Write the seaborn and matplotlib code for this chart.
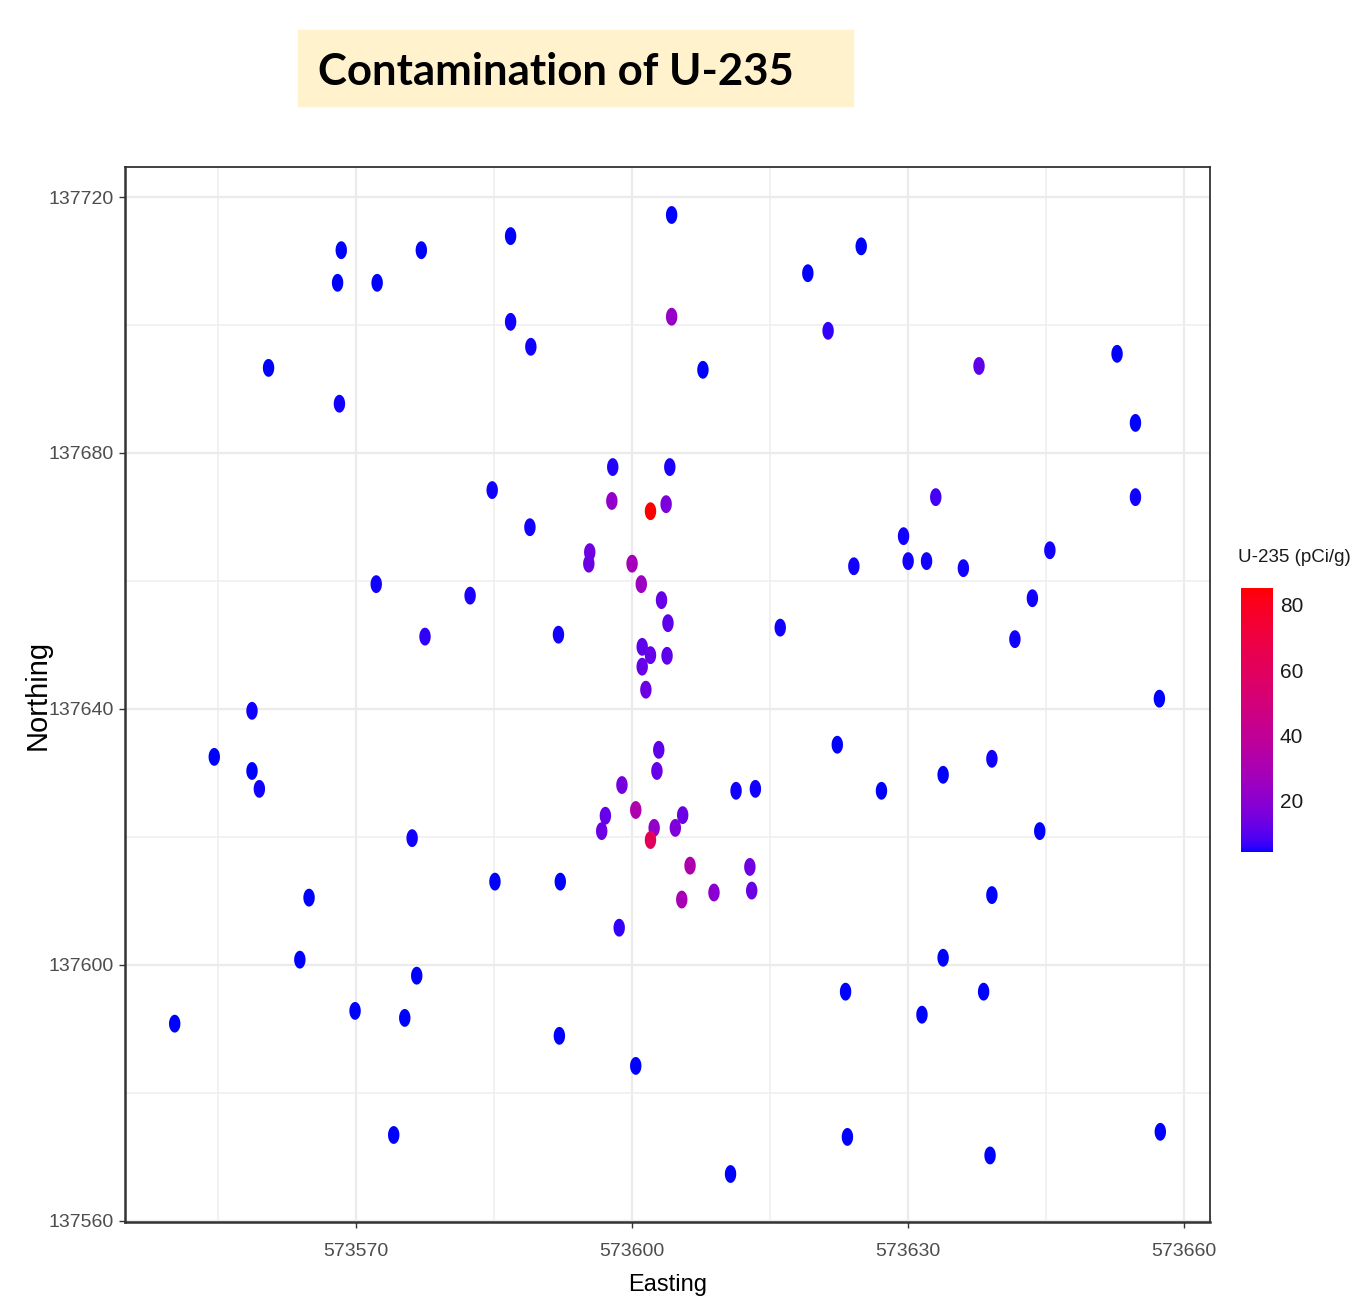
import numpy as np
import pandas as pd
import seaborn as sns
import matplotlib
matplotlib.use("Agg")
import matplotlib.pyplot as plt
from matplotlib import font_manager
from matplotlib.colors import ListedColormap, Normalize
from matplotlib.cm import ScalarMappable
from matplotlib.patches import Rectangle
from matplotlib.path import Path

# sample locations and U-235 activity (pCi/g)
easting = [573550.3, 573554.6, 573558.7, 573558.7, 573559.5, 573560.5, 573563.9, 573564.9,
           573568.0, 573568.4, 573568.2, 573569.9, 573572.3, 573572.2, 573574.1, 573575.3,
           573576.1, 573576.6, 573577.1, 573577.5, 573582.4, 573584.8, 573585.1, 573586.8,
           573586.8, 573588.9, 573589.0, 573592.0, 573592.1, 573592.2, 573595.4, 573595.3,
           573596.7, 573597.1, 573597.8, 573597.9, 573598.6, 573598.9, 573600.0, 573600.4,
           573600.4, 573601.0, 573601.1, 573601.1, 573601.5, 573602.0, 573602.0, 573602.4,
           573602.0, 573602.7, 573602.9, 573603.2, 573603.7, 573603.8, 573603.9, 573604.1,
           573604.3, 573604.3, 573604.7, 573605.4, 573605.5, 573606.3, 573607.7, 573608.9,
           573610.7, 573611.3, 573612.8, 573613.0, 573613.4, 573616.1, 573619.1, 573621.3,
           573622.3, 573623.2, 573623.4, 573624.1, 573624.9, 573627.1, 573629.5, 573630.0,
           573631.5, 573632.0, 573633.0, 573633.8, 573633.8, 573636.0, 573637.7, 573638.2,
           573638.9, 573639.1, 573639.1, 573641.6, 573643.5, 573644.3, 573645.4, 573652.7,
           573654.7, 573654.7, 573657.3, 573657.4]
northing = [137590.8, 137632.5, 137639.7, 137630.3, 137627.5, 137693.3, 137600.8, 137610.5,
            137706.6, 137711.7, 137687.7, 137592.8, 137706.6, 137659.5, 137573.4, 137591.7,
            137619.8, 137598.3, 137711.7, 137651.3, 137657.7, 137674.2, 137613.0, 137713.9,
            137700.5, 137668.4, 137696.6, 137651.6, 137588.9, 137613.0, 137664.5, 137662.7,
            137620.9, 137623.3, 137672.5, 137677.8, 137605.8, 137628.1, 137662.7, 137624.2,
            137584.2, 137659.5, 137649.7, 137646.6, 137643.0, 137670.9, 137648.4, 137621.4,
            137619.5, 137630.3, 137633.6, 137657.0, 137672.0, 137648.3, 137653.4, 137677.8,
            137717.2, 137701.3, 137621.4, 137610.2, 137623.4, 137615.5, 137693.0, 137611.3,
            137567.3, 137627.2, 137615.3, 137611.6, 137627.5, 137652.7, 137708.1, 137699.1,
            137634.4, 137595.8, 137573.1, 137662.3, 137712.3, 137627.2, 137667.0, 137663.1,
            137592.2, 137663.1, 137673.1, 137629.7, 137601.1, 137662.0, 137693.6, 137595.8,
            137570.2, 137632.2, 137610.9, 137650.9, 137657.3, 137620.9, 137664.8, 137695.5,
            137684.7, 137673.1, 137641.6, 137573.9]
u235 = [4.5, 4.6, 4.8, 4.5, 4.7, 4.3, 4.6, 4.5,
        4.6, 4.4, 4.8, 4.5, 4.6, 4.7, 4.5, 4.6,
        4.9, 4.5, 4.6, 6.0, 5.0, 4.7, 4.6, 4.5,
        4.8, 4.9, 4.7, 4.9, 4.5, 4.6, 14, 13,
        13, 12, 22, 5.5, 6.5, 15, 28, 32,
        4.6, 25, 11, 12, 13, 85.2, 12, 22,
        62, 12, 11, 12, 16, 11, 11, 5.0,
        4.6, 23, 17, 29, 13, 32, 4.6, 20,
        4.5, 4.8, 14, 13, 4.7, 4.8, 4.6, 6.5,
        4.6, 4.5, 4.6, 4.7, 4.5, 4.6, 4.9, 4.7,
        4.5, 4.8, 7.5, 4.6, 4.5, 4.9, 11, 4.6,
        4.5, 4.7, 4.6, 4.8, 4.7, 4.6, 4.8, 4.5,
        4.6, 4.7, 4.5, 4.6]
cbar_ticks = [20, 40, 60, 80]

df = pd.DataFrame({"Easting": easting, "Northing": northing, "U235": u235})


# blue -> red gradient interpolated in CIE Lab, like ggplot's scale_colour_gradient
WHITE = np.array([0.95047, 1.0, 1.08883])
M = np.array([[0.4124, 0.3576, 0.1805], [0.2126, 0.7152, 0.0722], [0.0193, 0.1192, 0.9505]])


def to_lab(rgb):
    c = np.asarray(rgb, float)
    c = np.where(c <= 0.04045, c / 12.92, ((c + 0.055) / 1.055) ** 2.4)
    t = M @ c / WHITE
    f = np.where(t > 0.008856, np.cbrt(t), 7.787 * t + 16 / 116)
    return np.array([116 * f[1] - 16, 500 * (f[0] - f[1]), 200 * (f[1] - f[2])])


def from_lab(lab):
    fy = (lab[0] + 16) / 116
    f = np.array([fy + lab[1] / 500, fy, fy - lab[2] / 200])
    t = np.where(f ** 3 > 0.008856, f ** 3, (f - 16 / 116) / 7.787) * WHITE
    c = np.linalg.solve(M, t)
    c = np.clip(c, 0, 1)
    c = np.where(c <= 0.0031308, 12.92 * c, 1.055 * c ** (1 / 2.4) - 0.055)
    return np.clip(c, 0, 1)


lab_lo, lab_hi = to_lab([0, 0, 1]), to_lab([1, 0, 0])
cmap = ListedColormap([from_lab(lab_lo + (lab_hi - lab_lo) * s) for s in np.linspace(0, 1, 256)])
norm = Normalize(vmin=min(u235), vmax=max(u235))

names = {f.name for f in font_manager.fontManager.ttflist}
narrow = "Liberation Sans Narrow" if "Liberation Sans Narrow" in names else "Liberation Sans"

sns.set_theme(style="white")
plt.rcParams["font.family"] = [narrow, "DejaVu Sans"]

W, H = 1354, 1297
fig = plt.figure(figsize=(W / 100, H / 100), dpi=100)
ax = fig.add_axes([125 / W, 1 - 1222 / H, (1210 - 125) / W, (1222 - 167) / H])

# points are drawn as tall ellipses
th = np.linspace(0, 2 * np.pi, 48)
ellipse = Path(np.column_stack([0.64 * np.cos(th), np.sin(th)]), closed=True)

sns.scatterplot(data=df, x="Easting", y="Northing", hue="U235", palette=cmap,
                hue_norm=(norm.vmin, norm.vmax), marker=ellipse, s=165,
                linewidth=0, legend=False, ax=ax, zorder=3)

ax.set_xlim(573544.9, 573662.8)
ax.set_ylim(137559.8, 137724.7)
ax.set_xticks([573570, 573600, 573630, 573660])
ax.set_xticks([573555, 573585, 573615, 573645], minor=True)
ax.set_yticks([137560, 137600, 137640, 137680, 137720])
ax.set_yticks([137580, 137620, 137660, 137700], minor=True)
ax.grid(which="major", color="#EBEBEB", linewidth=1.6, zorder=0)
ax.grid(which="minor", color="#EFEFEF", linewidth=1.2, zorder=0)
ax.set_axisbelow(True)
ax.ticklabel_format(useOffset=False, style="plain")
ax.tick_params(which="major", direction="out", length=4, width=1, color="#333333",
               labelsize=14, labelcolor="#4D4D4D", bottom=True, left=True)
ax.tick_params(axis="x", pad=11)
ax.tick_params(axis="y", pad=4)
ax.tick_params(which="minor", length=0)
for side in ax.spines.values():
    side.set_color("#333333")
    side.set_linewidth(1.3)
ax.spines["left"].set_linewidth(1.8)
ax.spines["bottom"].set_linewidth(1.8)

ax.set_xlabel("Easting", fontsize=17, color="black")
ax.xaxis.set_label_coords(0.5, (1222 - 1274) / (1222 - 167))
ax.set_ylabel("Northing", fontsize=21, color="black",
              family=["Liberation Sans", "DejaVu Sans"])
ax.yaxis.set_label_coords((52 - 125) / (1210 - 125), 0.5)

# colour bar on the right
cax = fig.add_axes([1241 / W, 1 - 852 / H, 32 / W, (852 - 588) / H])
cb = fig.colorbar(ScalarMappable(norm=norm, cmap=cmap), cax=cax, ticks=cbar_ticks)
cb.outline.set_visible(False)
cax.tick_params(direction="in", length=6, width=1, color="white", left=True, right=True,
                labelsize=15, labelcolor="#1A1A1A", pad=5)
fig.text(1238 / W, 1 - 558 / H, "U-235 (pCi/g)", fontsize=13.5, color="#1A1A1A",
         ha="left", va="center")

# title in a pale yellow box
fig.patches.append(Rectangle((298 / W, 1 - 106 / H), 555 / W, 76 / H,
                             transform=fig.transFigure, color="#FFF2CC", zorder=0))
fig.text(318 / W, 1 - 85 / H, "Contamination of U-235", fontsize=31.5, fontweight="bold",
         family=["Lato", "DejaVu Sans"], color="black", ha="left", va="baseline")

fig.savefig("out.png", dpi=100)
